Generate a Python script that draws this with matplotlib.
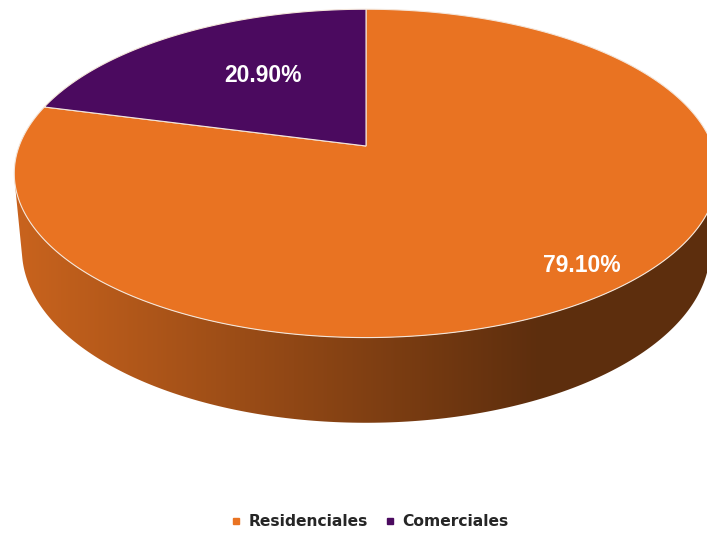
import numpy as np
import matplotlib.pyplot as plt
from matplotlib.patches import Polygon
from matplotlib.lines import Line2D
from matplotlib.colors import to_rgb

categorias = ["Residenciales", "Comerciales"]
porcentajes = [79.10, 20.90]
colores = ["#E97322", "#4B0A5F"]

# posicion de las etiquetas: radio y giro respecto al centro de la porcion
radio_etiqueta = [0.866, 0.576]
giro_etiqueta = [2.1, -3.9]

# vista en perspectiva del pastel 3D
phi = np.radians(27.4)
dist = 5.32
foco = 1845
grosor = 0.25
cx, cy = 366, 146
W, H = 707, 533


def proyectar(x, y, z):
    c, s = np.cos(phi), np.sin(phi)
    yup = z * c + y * s
    d = dist + y * c - z * s
    return np.column_stack([cx + foco * x / d, cy - foco * yup / d])


def arco(t0, t1, z, n=200):
    t = np.radians(np.linspace(t0, t1, n))
    return proyectar(np.cos(t), np.sin(t), np.full_like(t, z))


fig = plt.figure(figsize=(W / 100, H / 100), dpi=100)
ax = fig.add_axes([0, 0, 1, 1])
ax.set_xlim(0, W)
ax.set_ylim(H, 0)
ax.axis("off")

# angulos de cada porcion (sentido horario desde las 12)
inicio = 90.0
rangos = []
for p in porcentajes:
    fin = inicio - p / 100 * 360
    rangos.append((inicio, fin))
    inicio = fin

# parte visible del costado
lim = np.degrees(np.arcsin(-1 / (dist * np.cos(phi))))
vis_a, vis_b = -180 - lim, lim

xs = np.arange(W) + 0.5
t = np.clip((xs - 20) / 520, 0, 1)
factor = 0.86 - 0.46 * t

for (a, b), col in zip(rangos, colores):
    lo, hi = max(min(a, b), vis_a), min(max(a, b), vis_b)
    if hi <= lo:
        continue
    borde = np.vstack([arco(lo, hi, 0), arco(hi, lo, -grosor)])
    lado = Polygon(borde, closed=True, facecolor="none", edgecolor="none")
    ax.add_patch(lado)
    rgb = np.array(to_rgb(col))
    img = np.tile((factor[:, None] * rgb)[None, :, :], (H, 1, 1))
    im = ax.imshow(img, extent=(0, W, H, 0), zorder=1, interpolation="bilinear")
    im.set_clip_path(lado)

# cara superior
centro = proyectar(np.array([0.0]), np.array([0.0]), np.array([0.0]))
for (a, b), col in zip(rangos, colores):
    pts = np.vstack([centro, arco(a, b, 0, 400)])
    ax.add_patch(Polygon(pts, closed=True, facecolor=col, edgecolor="#F4E6DA",
                         linewidth=0.8, zorder=2))

# etiquetas de porcentaje
for (a, b), p, r, g in zip(rangos, porcentajes, radio_etiqueta, giro_etiqueta):
    m = np.radians((a + b) / 2 + g)
    pos = proyectar(np.array([r * np.cos(m)]), np.array([r * np.sin(m)]), np.array([0.0]))[0]
    ax.text(pos[0], pos[1], f"{p:.2f}%", ha="center", va="center", color="white",
            fontsize=16.5, fontweight="bold", family="Liberation Sans", zorder=3)

handles = [Line2D([], [], marker="s", linestyle="none", markersize=4.5,
                  markerfacecolor=c, markeredgecolor=c) for c in colores]
fig.legend(handles, categorias, loc="center", bbox_to_anchor=(370 / W, 1 - 522 / H),
           ncol=2, frameon=False, handlelength=0.6, handletextpad=0.5,
           columnspacing=1.1, labelcolor="#262626",
           prop={"family": "DejaVu Sans", "weight": "bold", "size": 11.2})

fig.savefig("out.png", dpi=100)
